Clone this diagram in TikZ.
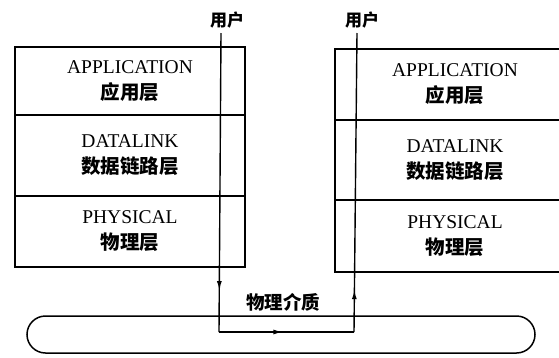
\documentclass[tikz,border=0pt]{standalone}
\usepackage{fontspec}
\setmainfont{Liberation Serif}
\newfontfamily\cjk{Noto Sans CJK SC}
\usetikzlibrary{arrows.meta,decorations.markings}
\begin{document}
\begin{tikzpicture}[x=1pt,y=-1pt,
  layerbox/.style={draw,line width=1.7pt,minimum width=230pt,align=center,inner sep=0pt,
    font=\fontsize{19.5}{26}\selectfont},
  rlayerbox/.style={layerbox,minimum width=240pt},
  cjklabel/.style={font=\cjk\bfseries\fontsize{17}{20}\selectfont,inner sep=1pt},
  wire/.style={line width=1.4pt},
  markat/.style={postaction={decorate},decoration={markings,mark=at position #1 with {\arrow{Latex[length=9pt,width=5pt]}}}}
]
\useasboundingbox (0,0) rectangle (559,357);
\clip (0,0) rectangle (559,357);
% left stack
\node[layerbox,minimum height=68pt] (la) at (130,81) {APPLICATION\\{\cjk\bfseries 应用层}};
\node[layerbox,minimum height=81pt] (ld) at (130,155.5) {DATALINK\\{\cjk\bfseries 数据链路层}};
\node[layerbox,minimum height=71pt] (lp) at (130,231.5) {PHYSICAL\\{\cjk\bfseries 物理层}};
% right stack
\node[rlayerbox,minimum height=71pt] (ra) at (455,84.5) {APPLICATION\\{\cjk\bfseries 应用层}};
\node[rlayerbox,minimum height=80pt] (rd) at (455,160) {DATALINK\\{\cjk\bfseries 数据链路层}};
\node[rlayerbox,minimum height=72pt] (rp) at (455,236) {PHYSICAL\\{\cjk\bfseries 物理层}};
% users
\node[cjklabel] (u1) at (227,20) {用户};
\node[cjklabel] (u2) at (362,20) {用户};
\coordinate (t1) at (221,33);
\coordinate (b1) at (219,332);
\coordinate (b2) at (354,332);
\coordinate (t2) at (357,33);
% medium
\node[draw,line width=1.5pt,rounded corners=18.5pt,minimum width=508pt,minimum height=37pt,inner sep=0pt] (med) at (281,334.5) {};
\node[cjklabel,font=\cjk\bfseries\fontsize{18.5}{20}\selectfont] (ml) at (283,302) {物理介质};
% signal path
\draw[wire,markat=0.86] (t1) -- (b1);
\draw[wire,markat=0.47] (b1) -- (b2);
\draw[wire,markat=0.14] (b2) -- (t2);
\end{tikzpicture}
\end{document}
